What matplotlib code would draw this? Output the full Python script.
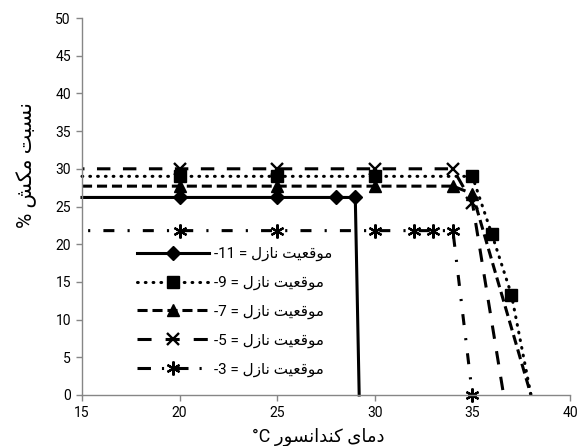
import matplotlib
matplotlib.use('Agg')
import matplotlib.pyplot as plt

plt.rcParams['font.family'] = ['Roboto', 'DejaVu Sans']

# ---------------- data ----------------
x_n11 = [15, 20, 25, 28, 29, 29.2]
y_n11 = [26.2, 26.2, 26.2, 26.2, 26.2, 0]

x_n9 = [15, 20, 25, 30, 35, 36, 37, 38]
y_n9 = [29, 29, 29, 29, 29, 21.3, 13.3, 0]

x_n7 = [15, 20, 25, 30, 34, 35, 38]
y_n7 = [27.7, 27.7, 27.7, 27.7, 27.7, 26.7, 0]

x_n5 = [15, 20, 25, 30, 34, 35, 36.6]
y_n5 = [30, 30, 30, 30, 30, 25.5, 0]

x_n3 = [15, 20, 25, 30, 32, 33, 34, 35]
y_n3 = [21.8, 21.8, 21.8, 21.8, 21.8, 21.8, 21.8, 0]

x_ticks = [15, 20, 25, 30, 35, 40]
y_ticks = [0, 5, 10, 15, 20, 25, 30, 35, 40, 45, 50]

# Persian text, written as shaped presentation forms in visual order
# "موقعیت نازل" (nozzle position)
word_nazel = "\uFEDD\uFEAF\uFE8E\uFEE7"
word_mogheiat = "\uFE96\uFEF4\uFECC\uFED7\uFEEE\uFEE3"
series_names = ["-11", "-9", "-7", "-5", "-3"]
labels = [f"{n} = {word_nazel} {word_mogheiat}" for n in series_names]

# "نسبت مکش %"
ylabel_text = "% " + "\uFEB6\uFB91\uFEE3" + " " + "\uFE96\uFE92\uFEB4\uFEE7"
# "دمای کندانسور °C"
xlabel_text = ("\u00B0C " + "\uFEAD\uFEEE\uFEB4\uFEE7\uFE8D\uFEAA\uFEE8\uFB90"
               + " " + "\uFEEF\uFE8E\uFEE3\uFEA9")

# ---------------- figure ----------------
W, H = 584, 446
fig = plt.figure(figsize=(W / 100, H / 100), dpi=100)
ax = fig.add_axes([82 / W, 51 / H, 488 / W, 377 / H])

lw = 2.2
common = dict(color='black', lw=lw, clip_on=False)

ax.plot(x_n11, y_n11, linestyle='-', marker='D', ms=7.5,
        markevery=[1, 2, 3, 4], label=labels[0], **common)
ax.plot(x_n9, y_n9, linestyle=(0, (0.25, 2.3)), marker='s', ms=8,
        markevery=[1, 2, 3, 4, 5, 6], label=labels[1],
        dash_capstyle='round', **common)
ax.plot(x_n7, y_n7, linestyle=(0, (3.3, 1.6)), marker='^', ms=9,
        markevery=[1, 2, 3, 4, 5], label=labels[2], **common)
ax.plot(x_n5, y_n5, linestyle=(3.6, (4.4, 4.1)), marker='x', ms=8, mew=1.7,
        markevery=[1, 2, 3, 4, 5], label=labels[3], **common)
ax.plot(x_n3, y_n3, linestyle=(5.9, (3.6, 4.3, 0.7, 4.3)), marker=(6, 2, 0),
        ms=10, mew=1.6, markevery=[1, 2, 3, 4, 5, 6, 7], label=labels[4],
        **common)

ax.set_xlim(15, 40)
ax.set_ylim(0, 50)
ax.set_xticks(x_ticks)
ax.set_yticks(y_ticks)

gray = '#868686'
for s in ['top', 'right']:
    ax.spines[s].set_visible(False)
for s in ['left', 'bottom']:
    ax.spines[s].set_color(gray)
    ax.spines[s].set_linewidth(1.0)
ax.tick_params(axis='both', direction='out', length=4, width=1.0,
               color=gray, labelsize=10, labelcolor='black', pad=4)

ax.set_xlabel(xlabel_text, fontsize=13)
ax.xaxis.set_label_coords((318 - 82) / 488, (395 - 427) / 377)
ax.set_ylabel(ylabel_text, fontsize=15)
ax.yaxis.set_label_coords((27 - 82) / 488, (395 - 165) / 377)
ax.yaxis.label.set_va('center')

leg = ax.legend(loc='upper left', bbox_to_anchor=(137 / W, 1 - 247 / H),
                bbox_transform=fig.transFigure, frameon=False, fontsize=11,
                handlelength=4.7, handletextpad=0.35, labelspacing=0.96,
                borderpad=0, borderaxespad=0)
leg_lines = leg.get_lines()
leg_lines[3].set_linestyle((0, (4.6, 4.6)))
leg_lines[4].set_linestyle((0, (4.4, 3.6, 0.7, 3.6)))

fig.savefig('out.png', dpi=100)
